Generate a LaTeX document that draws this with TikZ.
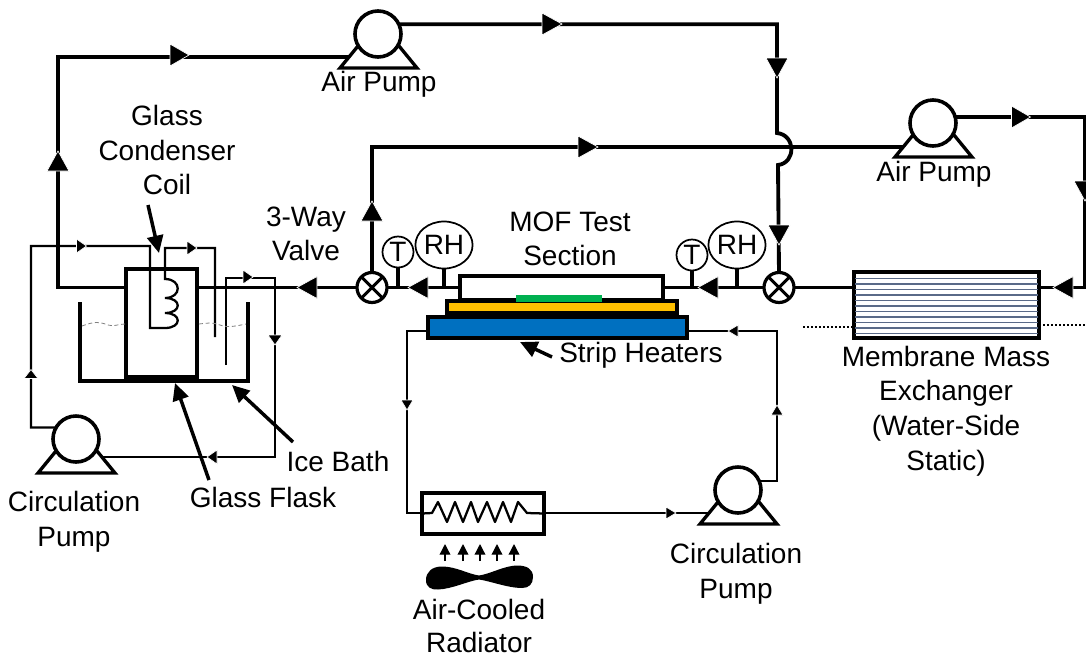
\documentclass[tikz,border=0pt]{standalone}
\usepackage{fontspec}
\setmainfont{Liberation Sans}
\usetikzlibrary{arrows.meta,shapes.geometric}
\pgfdeclarelayer{back}
\pgfsetlayers{back,main}
\definecolor{slatel}{HTML}{5A6A88}
\definecolor{testgreen}{HTML}{00B050}
\definecolor{heatyellow}{HTML}{FFC000}
\definecolor{coolblue}{HTML}{0070C0}
\tikzset{
  air/.style={line width=2.9pt,line join=miter},
  liq/.style={line width=1.7pt,line join=miter},
  wall/.style={draw,line width=3pt,inner sep=0pt,outer sep=0pt},
  pumpc/.style={circle,draw,fill=white,line width=2.7pt,minimum size={46*0.75pt},inner sep=0pt,outer sep=0pt},
  pumpb/.style={draw,fill=white,line width=2.5pt,line join=miter},
  valve/.style={circle,draw,fill=white,line width=2.4pt,minimum size={30*0.75pt},inner sep=0pt,outer sep=0pt},
  gauge/.style={circle,draw,fill=white,line width=1.3pt,minimum size={31*0.75pt},inner sep=0pt,outer sep=0pt,font={\fontsize{21}{25}\selectfont}},
  gaugerh/.style={ellipse,draw,fill=white,line width=1.3pt,minimum width={57*0.75pt},minimum height={47*0.75pt},inner sep=0pt,outer sep=0pt,font={\fontsize{21}{25}\selectfont}},
  lbl/.style={align=center,inner sep=0pt,font={\fontsize{21}{25.9}\selectfont}},
  note/.style={line width=2.6pt,-{Triangle[length=13pt,width=12pt]}},
  level/.style={draw=gray,line width=.6pt,densely dashed},
  dotline/.style={line width=1.4pt,dash pattern=on 1.5pt off 1.5pt},
}
% arrowhead: x, y of centre, visual angle, length, half width (pixels)
\newcommand{\flowhead}[5]{\begin{scope}[shift={(#1,#2)},rotate=#3]
  \filldraw[fill=black,draw=white,line width=.5pt] (-#4/2,-#5) -- (#4/2,0) -- (-#4/2,#5) -- cycle;
\end{scope}}
\newcommand{\pumpat}[3]{%
  \path[pumpb] (#2-38,#3+34) -- (#2-20,#3+12) -- (#2+21,#3+12) -- (#2+39,#3+34) -- cycle;
  \node[pumpc] (#1) at (#2,#3) {};}
\begin{document}
\begin{tikzpicture}[x=0.75pt,y=-0.75pt]
\useasboundingbox (0,0) rectangle (1086,658);

% waypoints
\coordinate (mainy) at (0,287.5);
\coordinate (y331) at (0,331);
\coordinate (cA) at (58,57);
\coordinate (cB) at (777,133);
\coordinate (cC) at (778,165);
\coordinate (cD) at (1085,287.5);
\coordinate (cF) at (933,147);
\coordinate (cG) at (777,331);
\coordinate (cH) at (407,331);
\coordinate (cI) at (407,513);
\coordinate (cJ) at (738,513);
\coordinate (cK) at (31,246);
\coordinate (cL) at (150,246);
\coordinate (cM) at (150,328);
\coordinate (cN) at (165,328);
\coordinate (cO) at (165,279);
\coordinate (cP) at (165,248);
\coordinate (cQ) at (215,248);
\coordinate (cR) at (215,337);
\coordinate (cS) at (226,365);
\coordinate (cT) at (226,278);
\coordinate (cU) at (275,278);
\coordinate (cV) at (275,457);
\coordinate (cW) at (76,457);
\coordinate (bathA) at (80,302);
\coordinate (bathB) at (80,381);
\coordinate (bathC) at (248,381);
\coordinate (bathD) at (248,302);

% equipment
\node[wall,minimum width={71*0.75pt},minimum height={108*0.75pt}] (flask) at (161.5,323) {};
\node[wall,fill=white,minimum width={203*0.75pt},minimum height={24*0.75pt}] (test) at (561.5,287.5) {};
\node[wall,fill=heatyellow,minimum width={230*0.75pt},minimum height={12*0.75pt}] (heater) at (562,307) {};
\node[draw=none,fill=testgreen,minimum width={86*0.75pt},minimum height={7*0.75pt},inner sep=0pt] (mof) at (559,298.5) {};
\node[wall,fill=coolblue,minimum width={259*0.75pt},minimum height={21*0.75pt}] (cool) at (557.5,327) {};
\node[wall,minimum width={122*0.75pt},minimum height={41*0.75pt}] (rad) at (483,513.5) {};
\node[wall,fill=white,minimum width={185*0.75pt},minimum height={66*0.75pt},line width=2.6pt] (mem) at (946.5,305) {};
\foreach \yy in {278.5,284,289.5,295,300.5,306,311.5,317,322.5,328,333.5}
  \draw[slatel,line width=.85pt] (855,\yy) -- (1038,\yy);

\pumpat{pA}{378}{34}
\pumpat{pB}{933}{123}
\pumpat{pC}{738}{490}
\pumpat{pD}{76}{439}

\node[valve] (vA) at (372,287.5) {};
\node[valve] (vB) at (779,287.5) {};
\draw[line width=2.2pt] (vA.45) -- (vA.225) (vA.135) -- (vA.315) (vB.45) -- (vB.225) (vB.135) -- (vB.315);

\node[gauge] (tA) at (398,252) {T};
\node[gaugerh] (rhA) at (444,245) {RH};
\node[gauge] (tB) at (692,255) {T};
\node[gaugerh] (rhB) at (737,245) {RH};

% connectors
\begin{pgfonlayer}{back}
  % air loop
  \draw[air] (vA.west) -- (vA.west -| flask.east);
  \draw[air] (flask.west |- mainy) -| (cA) -- (cA -| pA.center);
  \draw[air] (pA.25) -| (cB) .. controls (796,135) and (796,163) .. (cC) -- (vB.north);
  \draw[air] (vA.north) |- (cF) -- (pB.center);
  \draw[air] (pB.15) -| (cD) -- (mem.east |- cD);
  \draw[air] (vB.east) -- (vB.east -| mem.west);
  \draw[air] (vB.west) -- (test.east);
  \draw[air] (vA.east) -- (test.west);
  \draw[line width=2.5pt] (tA.south) -- (tA.south |- mainy);
  \draw[line width=2.5pt] (rhA.south) -- (rhA.south |- mainy);
  \draw[line width=2.5pt] (tB.south) -- (tB.south |- mainy);
  \draw[line width=2.5pt] (rhB.south) -- (rhB.south |- mainy);
  % coolant loop
  \draw[liq] (cool.east |- y331) -- (cG) -- (cG |- pC.23) -- (pC.23);
  \draw[liq] (cool.west |- y331) -- (cH) -- (cI) -- (rad.west |- cI);
  \draw[liq] (rad.east |- cJ) -- (cJ);
  % condenser loop
  \draw[liq] (pD.150) -| (cK) -- (cL) -- (cM) -- (cN)
     .. controls (182,328) and (182,313) .. (165,313)
     .. controls (182,313) and (182,298) .. (165,298)
     .. controls (182,298) and (182,279) .. (cO) -- (cP) -- (cQ) -- (cR);
  \draw[liq] (cS) -- (cT) -- (cU) -- (cV) -- (cW);
\end{pgfonlayer}

% radiator coil
\draw[line width=1.7pt,line join=round] (rad.west) -- (432,513) -- (438,502) -- (447,522) -- (455,502) -- (463,522) -- (471,502) -- (478,522) -- (487,502) -- (495,522) -- (503,502) -- (511,522) -- (518,502) -- (527,513) -- (rad.east);

% bath
\draw[line width=2.8pt,line join=miter] (bathA) -- (bathB) -- (bathC) -- (bathD);
\draw[line width=3pt] (flask.south west) -- (flask.south east);
% water level
\draw[level] (82,326) .. controls (95,321) and (100,322) .. (108,325) .. controls (114,327) and (118,324) .. (125,324);
\draw[level] (199,324) .. controls (208,323) and (212,322) .. (220,325) .. controls (228,328) and (236,326) .. (246,324);

% dotted level lines at the exchanger
\draw[dotline] (803,327) -- (mem.west |- 0,327);
\draw[dotline] (mem.east |- 0,325) -- (1086,325);

% fan
\fill (479,575.5) .. controls (468,574) and (456,566.5) .. (442,566.5)
  .. controls (432,566.5) and (426,572) .. (426,580)
  .. controls (426,587) and (431,590) .. (438,589.5)
  .. controls (452,589) and (468,581) .. (479,579.5)
  .. controls (490,581) and (508,588) .. (522,588)
  .. controls (529,588) and (533,584) .. (533,577)
  .. controls (533,569) and (527,565.5) .. (517,565.5)
  .. controls (505,565.5) and (490,574) .. (479,575.5) -- cycle;
% fan air arrows
\foreach \xx in {445,463,480,497,514}
  \draw[line width=1pt,-{Triangle[length=8pt,width=8pt]}] (\xx,561) -- (\xx,544);

% flow arrowheads
\flowhead{179.5}{55}{0}{19}{11}
\flowhead{58}{161}{90}{20}{11}
\flowhead{552}{24}{0}{20}{11}
\flowhead{777}{68}{270}{20}{11}
\flowhead{588}{147}{0}{20}{11}
\flowhead{1021}{117}{0}{19}{11}
\flowhead{1085}{191}{270}{20}{11}
\flowhead{1063}{287.5}{180}{20}{11}
\flowhead{779}{235}{270}{20}{11}
\flowhead{708}{287.5}{180}{20}{11}
\flowhead{418}{287.5}{180}{20}{11}
\flowhead{372}{211}{90}{20}{11}
\flowhead{307}{287.5}{180}{20}{11}
\flowhead{733}{331}{180}{10}{6}
\flowhead{777}{410}{90}{10}{6}
\flowhead{407}{405}{270}{10}{6}
\flowhead{671}{513}{0}{10}{6}
\flowhead{81.5}{246}{0}{10}{7}
\flowhead{192}{248}{0}{10}{7}
\flowhead{248}{277}{0}{10}{7}
\flowhead{275}{340}{270}{10}{7}
\flowhead{212}{457}{180}{10}{7}
\flowhead{31}{374}{90}{9}{7}

% annotation arrows
\coordinate (nAa) at (148,205); \coordinate (nAb) at (159,253);
\coordinate (nBa) at (209,480); \coordinate (nBb) at (175,383);
\coordinate (nCa) at (293,442); \coordinate (nCb) at (232,385);
\coordinate (nDa) at (552,357); \coordinate (nDb) at (520,342);
\draw[note] (nAa) -- (nAb);
\draw[note] (nBa) -- (nBb);
\draw[note] (nCa) -- (nCb);
\draw[note] (nDa) -- (nDb);

% labels
\node[lbl] (lA) at (379,84) {Air Pump};
\node[lbl] (lB) at (934,174) {Air Pump};
\node[lbl] (lC) at (167,150) {Glass\\Condenser\\Coil};
\node[lbl] (lD) at (306,234) {3-Way\\Valve};
\node[lbl] (lE) at (570,239) {MOF Test\\Section};
\node[lbl,anchor=west] (lF) at (559,355) {Strip Heaters};
\node[lbl] (lG) at (946,411) {Membrane Mass\\Exchanger\\(Water-Side\\Static)};
\node[lbl] (lH) at (74,522) {Circulation\\Pump};
\node[lbl] (lI) at (338,461) {Ice Bath};
\node[lbl] (lJ) at (263,497) {Glass Flask};
\node[lbl] (lK) at (736,574) {Circulation\\Pump};
\node[lbl] (lL) at (479,609) {Air-Cooled};
\node[lbl] (lM) at (479,642) {Radiator};
\end{tikzpicture}
\end{document}
